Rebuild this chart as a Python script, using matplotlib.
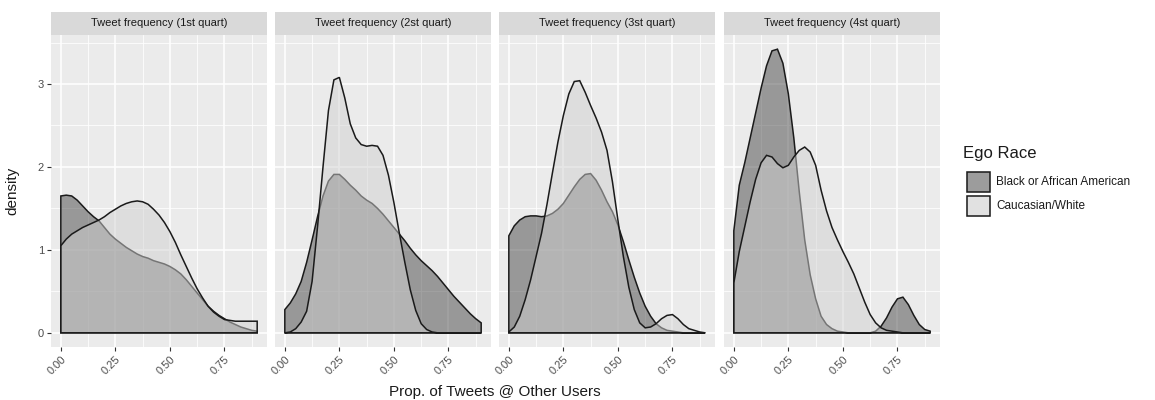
import numpy as np
import matplotlib
matplotlib.use("Agg")
import matplotlib.pyplot as plt
from matplotlib.colors import to_rgba
from matplotlib.patches import Rectangle

plt.rcParams["font.family"] = ["Liberation Sans", "DejaVu Sans"]

# density curves evaluated on a common grid, one pair per quartile panel
grid = np.linspace(0.0, 0.9, 37)

panel_titles = [
    "Tweet frequency (1st quart)",
    "Tweet frequency (2st quart)",
    "Tweet frequency (3st quart)",
    "Tweet frequency (4st quart)",
]
groups = ["Black or African American", "Caucasian/White"]

black_q1 = [1.65, 1.66, 1.65, 1.60, 1.53, 1.46, 1.40, 1.35, 1.27, 1.19, 1.13, 1.08, 1.03,
            0.99, 0.95, 0.92, 0.90, 0.87, 0.85, 0.83, 0.80, 0.76, 0.71, 0.64, 0.56, 0.48,
            0.40, 0.32, 0.26, 0.21, 0.17, 0.13, 0.10, 0.07, 0.05, 0.03, 0.02]
white_q1 = [1.05, 1.13, 1.19, 1.23, 1.27, 1.30, 1.33, 1.36, 1.40, 1.45, 1.49, 1.53, 1.56,
            1.58, 1.59, 1.58, 1.55, 1.49, 1.42, 1.33, 1.22, 1.09, 0.94, 0.80, 0.66, 0.53,
            0.42, 0.32, 0.25, 0.20, 0.16, 0.15, 0.14, 0.14, 0.14, 0.14, 0.14]

black_q2 = [0.28, 0.36, 0.47, 0.62, 0.85, 1.12, 1.40, 1.65, 1.83, 1.91, 1.91, 1.85, 1.78,
            1.72, 1.65, 1.60, 1.56, 1.50, 1.43, 1.35, 1.27, 1.19, 1.11, 1.02, 0.94, 0.87,
            0.81, 0.75, 0.68, 0.60, 0.52, 0.44, 0.37, 0.30, 0.23, 0.17, 0.12]
white_q2 = [0.00, 0.01, 0.05, 0.13, 0.26, 0.62, 1.28, 2.00, 2.68, 3.05, 3.08, 2.83, 2.52,
            2.35, 2.27, 2.25, 2.26, 2.25, 2.14, 1.90, 1.57, 1.20, 0.85, 0.52, 0.27, 0.11,
            0.04, 0.01, 0.00, 0.00, 0.00, 0.00, 0.00, 0.00, 0.00, 0.00, 0.00]

black_q3 = [1.17, 1.29, 1.36, 1.40, 1.41, 1.41, 1.40, 1.41, 1.44, 1.49, 1.56, 1.66, 1.76,
            1.85, 1.91, 1.92, 1.84, 1.72, 1.58, 1.46, 1.30, 1.10, 0.88, 0.67, 0.48, 0.32,
            0.20, 0.11, 0.06, 0.03, 0.02, 0.01, 0.00, 0.00, 0.00, 0.00, 0.00]
white_q3 = [0.01, 0.07, 0.20, 0.40, 0.64, 0.92, 1.20, 1.55, 1.93, 2.30, 2.62, 2.88, 3.03,
            3.04, 2.90, 2.74, 2.59, 2.42, 2.20, 1.82, 1.36, 0.92, 0.55, 0.28, 0.12, 0.06,
            0.07, 0.11, 0.17, 0.21, 0.22, 0.17, 0.10, 0.05, 0.03, 0.01, 0.00]

black_q4 = [1.23, 1.78, 2.05, 2.35, 2.65, 2.95, 3.22, 3.40, 3.42, 3.25, 2.88, 2.35, 1.70,
            1.12, 0.70, 0.41, 0.20, 0.10, 0.05, 0.02, 0.01, 0.00, 0.00, 0.00, 0.00, 0.00,
            0.02, 0.08, 0.18, 0.31, 0.41, 0.43, 0.34, 0.21, 0.10, 0.04, 0.02]
white_q4 = [0.60, 0.98, 1.28, 1.58, 1.85, 2.05, 2.14, 2.12, 2.04, 1.99, 2.02, 2.12, 2.20,
            2.24, 2.18, 2.02, 1.72, 1.47, 1.27, 1.12, 0.98, 0.85, 0.71, 0.54, 0.37, 0.22,
            0.12, 0.06, 0.03, 0.02, 0.01, 0.00, 0.00, 0.00, 0.00, 0.00, 0.00]

black_curves = [black_q1, black_q2, black_q3, black_q4]
white_curves = [white_q1, white_q2, white_q3, white_q4]

x_ticks = [0.0, 0.25, 0.5, 0.75]
x_tick_labels = ["0.00", "0.25", "0.50", "0.75"]
y_ticks = [0, 1, 2, 3]

fills = [to_rgba("#474747", 0.5), to_rgba("#d1d1d1", 0.5)]
panel_bg = "#ebebeb"
strip_bg = "#d9d9d9"
text_grey = "#4d4d4d"

W, H = 1155, 400
fig = plt.figure(figsize=(W / 100, H / 100), dpi=100)

panel_left = [51, 275, 499, 724]
panel_w = 216
panel_top, panel_bottom = 35, 347
strip_h = 23


def density_polygon(ax, ys, face):
    xs = np.concatenate([[grid[0]], grid, [grid[-1]]])
    yy = np.concatenate([[0.0], np.asarray(ys), [0.0]])
    ax.fill(xs, yy, facecolor=face, edgecolor="#1a1a1a", linewidth=1.1, zorder=3)


for i, left in enumerate(panel_left):
    ax = fig.add_axes([left / W, 1 - panel_bottom / H, panel_w / W,
                       (panel_bottom - panel_top) / H])
    ax.set_facecolor(panel_bg)
    for s in ax.spines.values():
        s.set_visible(False)
    ax.set_xlim(-0.045, 0.945)
    ax.set_ylim(-0.171, 3.591)

    ax.set_xticks(x_ticks)
    ax.set_xticks([0.125, 0.375, 0.625, 0.875], minor=True)
    ax.set_yticks(y_ticks)
    ax.set_yticks([0.5, 1.5, 2.5, 3.5], minor=True)
    ax.grid(which="major", color="white", linewidth=1.1, zorder=0)
    ax.grid(which="minor", color="white", linewidth=0.55, zorder=0)
    ax.set_axisbelow(True)
    ax.tick_params(which="minor", length=0)
    ax.tick_params(which="major", length=3, width=0.8, color="#333333",
                   labelsize=8, labelcolor=text_grey, pad=2)
    ax.set_xticklabels(x_tick_labels, rotation=45, ha="right", va="top",
                       rotation_mode="anchor")
    if i == 0:
        ax.set_yticklabels([str(v) for v in y_ticks])
    else:
        ax.tick_params(axis="y", left=False, labelleft=False)

    density_polygon(ax, black_curves[i], fills[0])
    density_polygon(ax, white_curves[i], fills[1])

    # facet strip
    sh = strip_h / (panel_bottom - panel_top)
    ax.add_patch(Rectangle((0, 1), 1, sh, transform=ax.transAxes,
                           facecolor=strip_bg, edgecolor="none", clip_on=False))
    ax.text(0.5, 1 + sh / 2, panel_titles[i], transform=ax.transAxes,
            ha="center", va="center", fontsize=8, color="#1a1a1a")

fig.text(12 / W, 1 - 191 / H, "density", rotation=90, ha="center", va="center",
         fontsize=11, color="#1a1a1a")
fig.text(494.5 / W, 1 - 392 / H, "Prop. of Tweets @ Other Users", ha="center",
         va="center", fontsize=11, color="#1a1a1a")

# legend
fig.text(963 / W, 1 - 153 / H, "Ego Race", ha="left", va="center",
         fontsize=12, color="#1a1a1a")
key_tops = [171, 195]
for top, face, label in zip(key_tops, fills, groups):
    fig.add_artist(Rectangle((966 / W, 1 - (top + 22) / H), 25 / W, 22 / H,
                             transform=fig.transFigure, facecolor="#f2f2f2",
                             edgecolor="none"))
    fig.add_artist(Rectangle((967 / W, 1 - (top + 21) / H), 23 / W, 20 / H,
                             transform=fig.transFigure, facecolor=face,
                             edgecolor="#1a1a1a", linewidth=1.1))
    fig.text(996 / W, 1 - (top + 11) / H, label, ha="left", va="center",
             fontsize=8.5, color="#1a1a1a")

fig.savefig("out.png", dpi=100)
